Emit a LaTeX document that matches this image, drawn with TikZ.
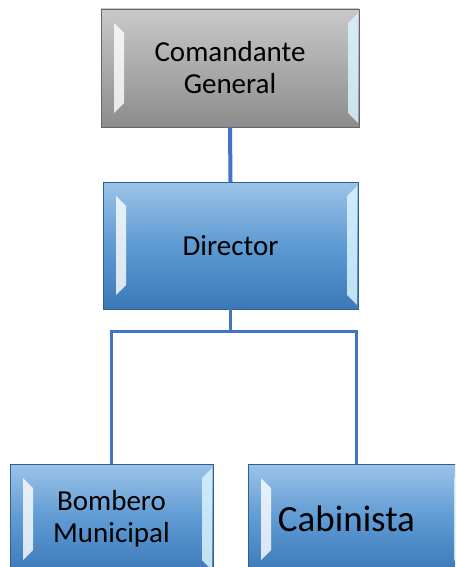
\documentclass[tikz,border=0pt]{standalone}
\usepackage{fontspec}
\setmainfont{Carlito}
\usetikzlibrary{calc}
\definecolor{grayhi}{HTML}{C9C9C9}
\definecolor{graylo}{HTML}{8C8C8C}
\definecolor{bluehi}{HTML}{9CC3E8}
\definecolor{bluemid}{HTML}{5E9AD3}
\definecolor{bluelo}{HTML}{3B78B8}
\definecolor{blueline}{HTML}{4472C4}
\tikzset{
  bevel/.style={path picture={
    \fill[white, opacity=.8] ($(path picture bounding box.north west)+(13,-14)$) -- ++(10,-10)
      -- ($(path picture bounding box.south west)+(23,24)$) -- ++(-10,-10) -- cycle;
    \fill[cyan!15, opacity=.85] ($(path picture bounding box.north east)+(-1,-4)$) -- ++(-10,-10)
      -- ($(path picture bounding box.south east)+(-11,14)$) -- ++(10,-10) -- cycle;
  }},
  graybox/.style={bevel, draw=black!60, top color=grayhi, bottom color=graylo, inner sep=0pt, align=center},
  bluebox/.style={bevel, draw=bluelo!80!black, top color=bluehi, bottom color=bluelo, middle color=bluemid, inner sep=0pt, align=center},
  link/.style={draw=blueline, line width=3pt}
}
\begin{document}
\begin{tikzpicture}[x=1pt, y=1pt, font=\fontsize{29}{32}\selectfont]
\clip (0,0) rectangle (455,-567);
\fill[white] (0,0) rectangle (455,-567);

\node[graybox, minimum width=258pt, minimum height=118pt] (cg) at (230,-68) {Comandante\\General};
\node[bluebox, minimum width=255pt, minimum height=127pt] (dir) at (230.5,-245.5) {Director};
\node[bluebox, minimum width=203pt, minimum height=110pt] (bom) at (111.5,-519) {Bombero\\Municipal};
\node[bluebox, minimum width=217pt, minimum height=110pt, font=\fontsize{37}{40}\selectfont] (cab) at (356.5,-519) {\hspace*{-20pt}Cabinista};

\draw[link, line width=4pt] (cg.south) -- (dir.north);
\draw[link] (dir.south) -- ++(0,-22) coordinate (mid);
\draw[link] (bom.north) |- (mid) -| (cab.north);

\end{tikzpicture}
\end{document}
